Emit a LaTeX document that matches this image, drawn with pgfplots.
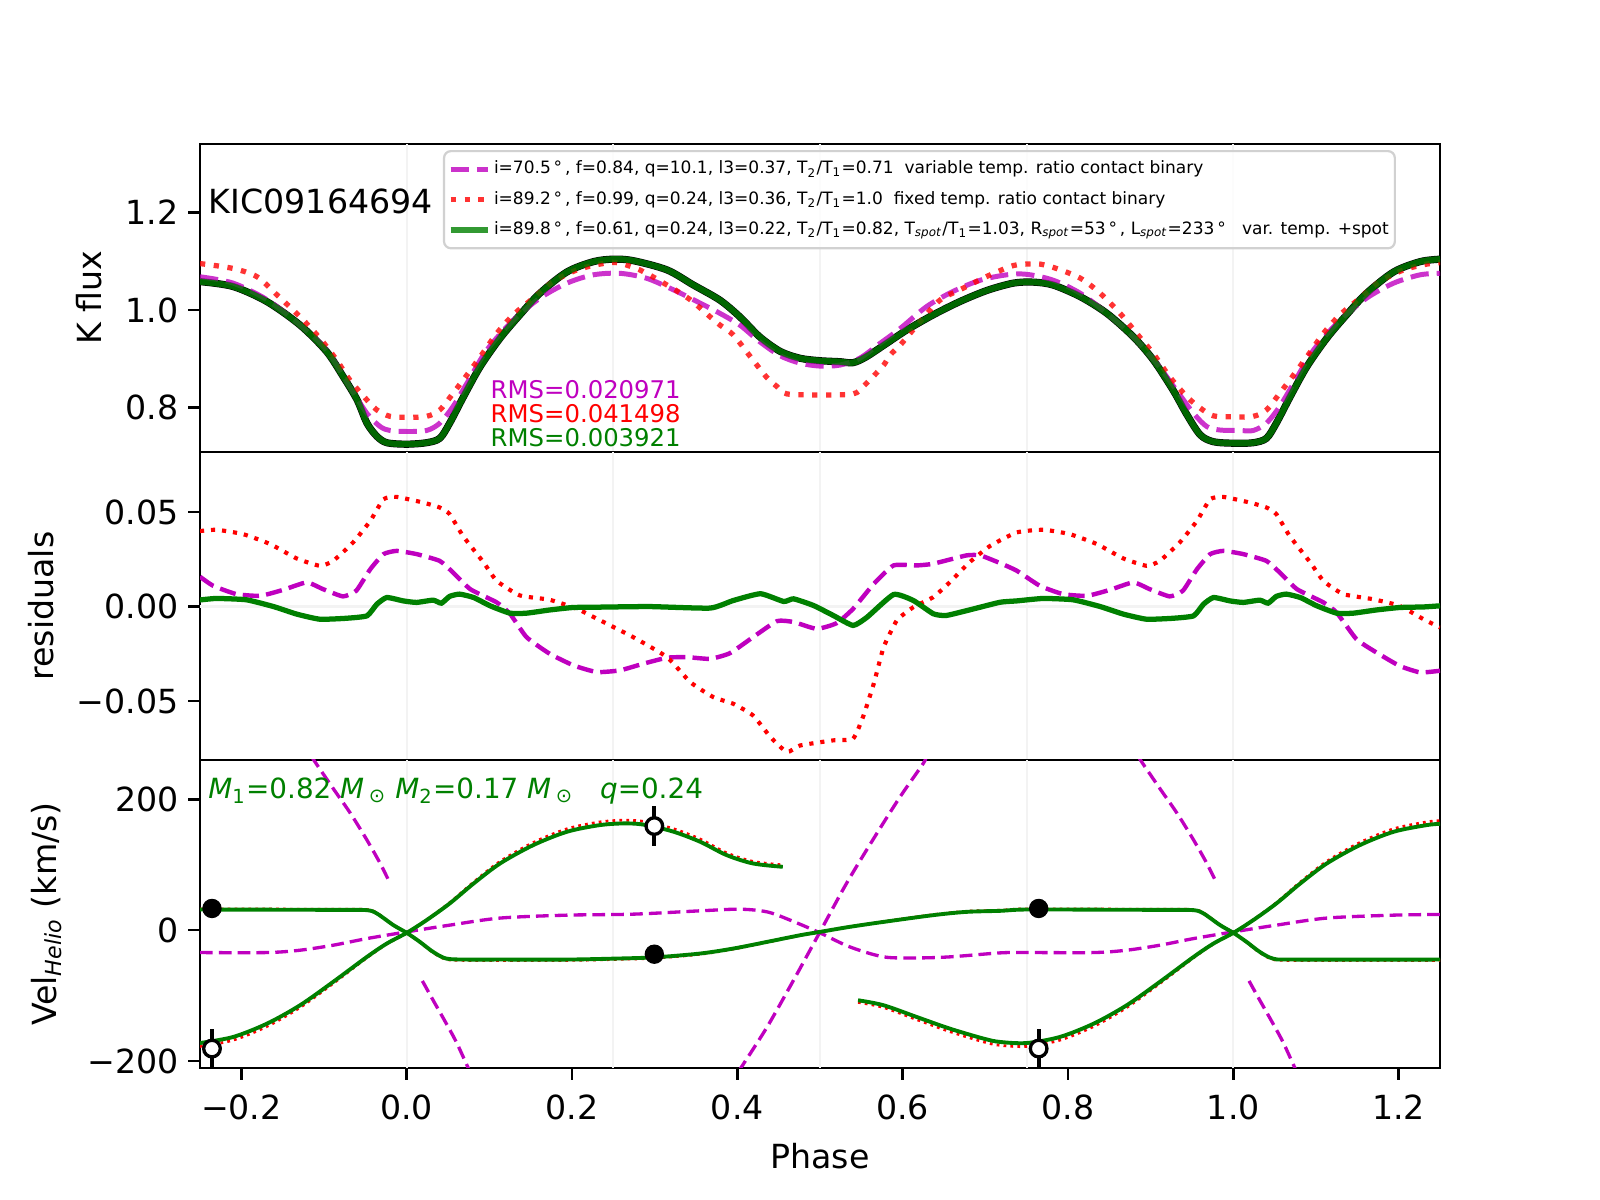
\documentclass[border=0pt]{standalone}
\usepackage{fontspec}
\setmainfont{DejaVu Sans}
\usepackage{pgfplots}
\pgfplotsset{compat=1.18}
\definecolor{mplm}{HTML}{BF00BF}
\definecolor{mplr}{HTML}{FF0000}
\definecolor{mplg}{HTML}{008000}
\definecolor{gridc}{HTML}{F3F3F3}
\pgfplotsset{
  panel/.style={
    scale only axis, width=6.2in, height=1.54in,
    xmin=-0.25, xmax=1.25,
    scaled ticks=false,
    axis line style={line width=1pt},
    tick align=outside,
    major tick length=4.2pt,
    every tick/.append style={black, line width=0.9pt},
    ytick pos=left, xtick pos=bottom,
    tick label style={font=\fontsize{12}{14}\selectfont},
    extra x ticks={0,0.25,0.5,0.75,1},
    extra x tick labels={},
    extra x tick style={grid=major, major tick length=0pt},
    major grid style={gridc, line width=0.8pt},
    ylabel style={font=\fontsize{12}{14}\selectfont, anchor=center},
    xlabel style={font=\fontsize{12}{14}\selectfont, anchor=center},
    unbounded coords=jump,
  },
}
\begin{document}
\begin{tikzpicture}
\useasboundingbox (0,0) rectangle (8in,6in);
% ---------------- TOP PANEL ----------------
\begin{axis}[panel, at={(1in,3.74in)}, anchor=south west,
  ymin=0.709, ymax=1.340, xtick=\empty,
  ytick={0.8,1.0,1.2}, yticklabels={0.8,1.0,1.2},
  ylabel={K flux}, ylabel style={at={(axis description cs:-0.0895,0.5)}},
  legend style={at={(axis description cs:0.9645,0.9805)}, anchor=north east,
    font=\fontsize{6.15}{7.4}\selectfont, draw=black!18, rounded corners=2.5pt,
    line width=0.8pt, fill=white, fill opacity=0.8, text opacity=1,
    inner xsep=1.3pt, inner ysep=2pt, row sep=1.5pt,
    nodes={inner xsep=0.9pt, inner ysep=1.6pt}, cells={anchor=west}},
  legend image code/.code={\draw[#1] (0cm,0cm) -- (0.48cm,0cm);},
]
\addplot[black, line width=2.6pt, smooth, forget plot] table {
-0.250 1.058
-0.210 1.048
-0.169 1.017
-0.129 0.969
-0.097 0.915
-0.077 0.864
-0.060 0.816
-0.048 0.768
-0.036 0.741
-0.024 0.728
0.000 0.725
0.024 0.728
0.040 0.737
0.052 0.768
0.069 0.823
0.089 0.884
0.113 0.942
0.137 0.990
0.161 1.034
0.194 1.078
0.226 1.099
0.250 1.104
0.274 1.101
0.315 1.082
0.347 1.051
0.379 1.020
0.403 0.986
0.427 0.945
0.452 0.915
0.476 0.901
0.500 0.896
0.524 0.894
0.540 0.892
0.556 0.904
0.581 0.932
0.605 0.959
0.637 0.990
0.669 1.017
0.702 1.040
0.734 1.055
0.758 1.057
0.782 1.051
0.815 1.027
0.847 0.993
0.879 0.945
0.903 0.898
0.927 0.836
0.944 0.785
0.960 0.744
0.976 0.730
1.000 0.727
1.024 0.728
1.040 0.737
1.052 0.768
1.069 0.823
1.089 0.884
1.113 0.942
1.137 0.990
1.161 1.034
1.194 1.078
1.226 1.099
1.250 1.104
};
\addplot[mplm, draw opacity=0.8, line width=1.8pt, dash pattern=on 6.6pt off 2.9pt, smooth, forget plot] table {
-0.250 1.068
-0.210 1.055
-0.169 1.021
-0.129 0.969
-0.097 0.918
-0.069 0.843
-0.048 0.788
-0.032 0.761
-0.020 0.753
0.000 0.751
0.024 0.753
0.040 0.768
0.056 0.802
0.073 0.850
0.097 0.918
0.129 0.979
0.161 1.024
0.194 1.055
0.226 1.072
0.258 1.075
0.290 1.065
0.323 1.041
0.355 1.014
0.379 0.993
0.403 0.969
0.427 0.935
0.452 0.906
0.476 0.891
0.500 0.885
0.524 0.887
0.548 0.901
0.573 0.932
0.597 0.962
0.629 1.007
0.661 1.038
0.694 1.061
0.726 1.072
0.750 1.073
0.782 1.061
0.815 1.034
0.847 0.993
0.879 0.945
0.907 0.891
0.931 0.836
0.952 0.788
0.968 0.761
0.984 0.754
1.008 0.753
1.024 0.753
1.040 0.768
1.056 0.802
1.073 0.850
1.097 0.918
1.129 0.979
1.161 1.024
1.194 1.055
1.226 1.072
1.250 1.075
};
\addplot[mplr, draw opacity=0.8, line width=1.9pt, dash pattern=on 1.9pt off 3.1pt, smooth, forget plot] table {
-0.250 1.095
-0.210 1.085
-0.181 1.068
-0.157 1.031
-0.129 0.986
-0.105 0.942
-0.085 0.898
-0.069 0.857
-0.052 0.823
-0.036 0.795
-0.020 0.782
0.000 0.780
0.024 0.782
0.040 0.795
0.056 0.829
0.073 0.867
0.089 0.904
0.109 0.952
0.129 0.990
0.153 1.024
0.177 1.058
0.206 1.082
0.234 1.094
0.254 1.097
0.282 1.082
0.315 1.051
0.343 1.021
0.367 0.986
0.379 0.969
0.395 0.949
0.415 0.906
0.435 0.863
0.448 0.843
0.460 0.828
0.500 0.826
0.540 0.828
0.552 0.843
0.565 0.865
0.577 0.887
0.585 0.908
0.597 0.928
0.609 0.952
0.621 0.976
0.645 1.020
0.669 1.041
0.689 1.058
0.710 1.075
0.734 1.091
0.750 1.094
0.766 1.094
0.786 1.085
0.815 1.065
0.839 1.034
0.863 0.993
0.883 0.952
0.903 0.911
0.923 0.863
0.944 0.822
0.960 0.799
0.976 0.783
1.000 0.781
1.024 0.782
1.040 0.795
1.056 0.829
1.073 0.867
1.089 0.904
1.109 0.952
1.129 0.990
1.153 1.024
1.177 1.058
1.206 1.082
1.234 1.094
1.250 1.097
};
\addplot[mplg, draw opacity=0.8, line width=2.2pt, smooth, forget plot] table {
-0.250 1.058
-0.210 1.048
-0.169 1.017
-0.129 0.969
-0.097 0.915
-0.077 0.864
-0.060 0.816
-0.048 0.768
-0.036 0.741
-0.024 0.728
0.000 0.725
0.024 0.728
0.040 0.737
0.052 0.768
0.069 0.823
0.089 0.884
0.113 0.942
0.137 0.990
0.161 1.034
0.194 1.078
0.226 1.099
0.250 1.104
0.274 1.101
0.315 1.082
0.347 1.051
0.379 1.020
0.403 0.986
0.427 0.945
0.452 0.915
0.476 0.901
0.500 0.896
0.524 0.894
0.540 0.892
0.556 0.904
0.581 0.932
0.605 0.959
0.637 0.990
0.669 1.017
0.702 1.040
0.734 1.055
0.758 1.057
0.782 1.051
0.815 1.027
0.847 0.993
0.879 0.945
0.903 0.898
0.927 0.836
0.944 0.785
0.960 0.744
0.976 0.730
1.000 0.727
1.024 0.728
1.040 0.737
1.052 0.768
1.069 0.823
1.089 0.884
1.113 0.942
1.137 0.990
1.161 1.034
1.194 1.078
1.226 1.099
1.250 1.104
};
\addlegendimage{mplm, draw opacity=0.8, line width=1.8pt, dash pattern=on 6.6pt off 2.9pt}
\addlegendentry{i=70.5\,°\,, f=0.84, q=10.1, l3=0.37, T\textsubscript{2}/T\textsubscript{1}=0.71\ \ variable temp. ratio contact binary}
\addlegendimage{mplr, draw opacity=0.8, line width=1.9pt, dash pattern=on 1.9pt off 3.1pt}
\addlegendentry{i=89.2\,°\,, f=0.99, q=0.24, l3=0.36, T\textsubscript{2}/T\textsubscript{1}=1.0\ \ fixed temp. ratio contact binary}
\addlegendimage{mplg, draw opacity=0.8, line width=2.2pt}
\addlegendentry{i=89.8\,°\,, f=0.61, q=0.24, l3=0.22, T\textsubscript{2}/T\textsubscript{1}=0.82, T\textsubscript{\textit{spot}}/T\textsubscript{1}=1.03, R\textsubscript{\textit{spot}}=53\,°\,, L\textsubscript{\textit{spot}}=233\,°\ \ \ var. temp. +spot}
\node[anchor=base west, inner sep=0pt, font=\fontsize{12}{14}\selectfont] at (axis description cs:0.0068,0.775) {KIC09164694};
\node[anchor=base west, inner sep=0pt, text=mplm, font=\fontsize{8.8}{10}\selectfont] at (axis cs:0.101,0.819) {RMS=0.020971};
\node[anchor=base west, inner sep=0pt, text=mplr, font=\fontsize{8.8}{10}\selectfont] at (axis cs:0.101,0.769) {RMS=0.041498};
\node[anchor=base west, inner sep=0pt, text=mplg, font=\fontsize{8.8}{10}\selectfont] at (axis cs:0.101,0.720) {RMS=0.003921};
\end{axis}
% ---------------- MIDDLE PANEL ----------------
\begin{axis}[panel, at={(1in,2.2in)}, anchor=south west,
  ymin=-0.0813, ymax=0.0819, xtick=\empty,
  ytick={-0.05,0,0.05}, yticklabels={−0.05,0.00,0.05},
  extra y ticks={0}, extra y tick labels={},
  extra y tick style={grid=major, major tick length=0pt},
  ylabel={residuals}, ylabel style={at={(axis description cs:-0.128,0.5)}},
]
\addplot[mplm, line width=1.6pt, dash pattern=on 5.9pt off 2.6pt, smooth, tension=0.3] table {
-0.250 0.0158
-0.234 0.0110
-0.206 0.0066
-0.177 0.0057
-0.149 0.0089
-0.121 0.0128
-0.101 0.0092
-0.077 0.0054
-0.061 0.0084
-0.044 0.0198
-0.028 0.0278
-0.012 0.0295
0.012 0.0278
0.040 0.0242
0.056 0.0181
0.077 0.0092
0.109 0.0022
0.125 -0.0038
0.145 -0.0162
0.173 -0.0250
0.202 -0.0312
0.230 -0.0347
0.258 -0.0338
0.286 -0.0303
0.315 -0.0271
0.339 -0.0268
0.367 -0.0277
0.391 -0.0247
0.419 -0.0162
0.448 -0.0077
0.468 -0.0082
0.496 -0.0118
0.520 -0.0088
0.540 -0.0012
0.565 0.0120
0.589 0.0218
0.617 0.0218
0.637 0.0227
0.677 0.0271
0.694 0.0271
0.718 0.0230
0.738 0.0190
0.766 0.0110
0.794 0.0066
0.823 0.0057
0.851 0.0089
0.879 0.0128
0.899 0.0092
0.923 0.0054
0.939 0.0084
0.956 0.0198
0.972 0.0278
0.988 0.0295
1.012 0.0278
1.040 0.0242
1.056 0.0181
1.077 0.0092
1.109 0.0022
1.125 -0.0032
1.149 -0.0173
1.173 -0.0243
1.201 -0.0314
1.226 -0.0349
1.250 -0.0340
};
\addplot[mplr, line width=1.5pt, dash pattern=on 1.5pt off 2.5pt, smooth, tension=0.3] table {
-0.250 0.0400
-0.230 0.0407
-0.198 0.0384
-0.165 0.0331
-0.133 0.0255
-0.105 0.0216
-0.089 0.0242
-0.065 0.0339
-0.044 0.0454
-0.028 0.0569
-0.012 0.0581
0.020 0.0551
0.040 0.0525
0.052 0.0490
0.068 0.0375
0.093 0.0234
0.109 0.0136
0.137 0.0059
0.173 0.0036
0.206 -0.0012
0.234 -0.0073
0.274 -0.0162
0.315 -0.0268
0.343 -0.0400
0.371 -0.0480
0.395 -0.0515
0.419 -0.0577
0.440 -0.0691
0.460 -0.0771
0.476 -0.0736
0.516 -0.0709
0.540 -0.0700
0.552 -0.0585
0.565 -0.0409
0.577 -0.0215
0.593 -0.0073
0.613 -0.0003
0.637 0.0050
0.657 0.0129
0.681 0.0235
0.706 0.0322
0.738 0.0393
0.770 0.0407
0.802 0.0384
0.835 0.0331
0.867 0.0255
0.895 0.0216
0.911 0.0242
0.935 0.0339
0.956 0.0454
0.972 0.0569
0.988 0.0581
1.020 0.0551
1.040 0.0525
1.052 0.0490
1.068 0.0375
1.093 0.0234
1.109 0.0136
1.133 0.0066
1.169 0.0039
1.201 0.0004
1.230 -0.0067
1.250 -0.0111
};
\addplot[mplg, line width=1.9pt, smooth, tension=0.3] table {
-0.250 0.0035
-0.230 0.0043
-0.194 0.0036
-0.161 0.0000
-0.133 -0.0040
-0.105 -0.0067
-0.073 -0.0062
-0.048 -0.0049
-0.036 0.0013
-0.024 0.0048
-0.004 0.0030
0.012 0.0022
0.032 0.0034
0.042 0.0018
0.052 0.0054
0.064 0.0066
0.081 0.0048
0.101 0.0004
0.125 -0.0035
0.145 -0.0035
0.173 -0.0018
0.201 -0.0005
0.234 -0.0003
0.294 0.0000
0.367 -0.0008
0.395 0.0032
0.428 0.0068
0.456 0.0027
0.468 0.0041
0.492 0.0006
0.516 -0.0047
0.540 -0.0100
0.557 -0.0056
0.589 0.0064
0.613 0.0032
0.637 -0.0038
0.653 -0.0047
0.686 -0.0012
0.718 0.0023
0.738 0.0030
0.770 0.0043
0.806 0.0036
0.839 0.0000
0.867 -0.0040
0.895 -0.0067
0.927 -0.0062
0.952 -0.0049
0.964 0.0013
0.976 0.0048
0.996 0.0030
1.012 0.0022
1.032 0.0034
1.042 0.0018
1.052 0.0054
1.064 0.0066
1.081 0.0048
1.101 0.0004
1.125 -0.0035
1.145 -0.0035
1.173 -0.0018
1.201 -0.0005
1.230 -0.0002
1.250 0.0004
};
\end{axis}
% ---------------- BOTTOM PANEL ----------------
\begin{axis}[panel, at={(1in,0.66in)}, anchor=south west,
  ymin=-210.7, ymax=260.2,
  xtick={-0.2,0,0.2,0.4,0.6,0.8,1.0,1.2},
  xticklabels={−0.2,0.0,0.2,0.4,0.6,0.8,1.0,1.2},
  xticklabel style={yshift=-2pt},
  ytick={-200,0,200}, yticklabels={−200,0,200},
  ylabel={Vel\textsubscript{\textit{Helio}} (km/s)}, ylabel style={at={(axis description cs:-0.1238,0.5)}},
  xlabel={Phase}, xlabel style={at={(axis description cs:0.5,-0.2857)}},
]
% magenta low-amplitude
\addplot[mplm, line width=1.2pt, dash pattern=on 4.6pt off 2.2pt, smooth] table {
-0.250 -34.2
-0.169 -34.2
-0.129 -30.6
-0.089 -23.0
-0.048 -12.8
0.000 -2.6
0.052 7.7
0.113 18.5
0.194 23.0
0.274 24.5
0.355 29.6
0.403 32.1
0.436 28.0
0.464 15.3
0.500 -4.1
0.536 -25.5
0.577 -40.8
0.617 -42.4
0.657 -40.8
0.718 -34.7
0.750 -34.2
0.831 -34.2
0.871 -30.6
0.911 -23.0
0.952 -12.8
1.000 -2.6
1.052 7.7
1.113 18.5
1.194 23.0
1.250 24.0
};
% magenta high-amplitude segments
\addplot[mplm, line width=1.2pt, dash pattern=on 4.6pt off 2.2pt, smooth] table {
-0.115 266.0
-0.111 257.6
-0.089 216.8
-0.068 178.6
-0.048 137.7
-0.032 102.0
-0.020 71.4
};
\addplot[mplm, line width=1.2pt, dash pattern=on 4.6pt off 2.2pt, smooth] table {
0.019 -77.6
0.032 -107.1
0.048 -142.9
0.060 -170.9
0.073 -206.6
0.076 -215.0
};
\addplot[mplm, line width=1.2pt, dash pattern=on 4.6pt off 2.2pt, smooth] table {
0.402 -215.0
0.405 -209.2
0.436 -148.0
0.468 -76.5
0.500 -2.6
0.532 71.4
0.565 140.3
0.597 204.1
0.625 255.1
0.628 265.0
};
\addplot[mplm, line width=1.2pt, dash pattern=on 4.6pt off 2.2pt, smooth] table {
0.885 266.0
0.889 257.6
0.911 216.8
0.932 178.6
0.952 137.7
0.968 102.0
0.980 71.4
};
\addplot[mplm, line width=1.2pt, dash pattern=on 4.6pt off 2.2pt, smooth] table {
1.019 -77.6
1.032 -107.1
1.048 -142.9
1.060 -170.9
1.073 -206.6
1.076 -215.0
};
% red dotted model
\addplot[mplr, line width=1.0pt, dash pattern=on 1.0pt off 1.5pt, smooth] table {
-0.250 32.5
-0.150 32.2
-0.080 31.9
-0.048 31.5
-0.036 26.3
-0.016 7.9
0.000 -4.1
0.016 -18.4
0.032 -34.2
0.048 -44.7
0.073 -46.2
0.113 -46.2
0.194 -46.2
0.250 -44.8
0.300 -42.7
0.355 -36.8
0.395 -28.9
0.436 -18.4
0.476 -7.9
0.500 -2.7
0.536 5.3
0.577 13.1
0.637 23.7
0.677 28.8
0.718 30.5
0.750 32.5
0.850 32.2
0.920 31.9
0.952 31.5
0.964 26.3
0.984 7.9
1.000 -4.1
1.016 -18.4
1.032 -34.2
1.048 -44.7
1.073 -46.2
1.250 -46.2
};
\addplot[mplr, line width=1.0pt, dash pattern=on 1.0pt off 1.5pt, smooth] table {
-0.250 -177.7
-0.210 -168.2
-0.169 -147.2
-0.129 -118.2
-0.089 -81.5
-0.048 -42.0
-0.024 -21.0
0.000 -4.2
0.024 15.8
0.052 42.0
0.081 73.5
0.113 105.1
0.153 133.9
0.194 155.0
0.234 165.5
0.266 168.2
0.290 165.5
0.323 155.0
0.355 139.3
0.387 118.2
0.419 105.1
0.455 99.8
};
\addplot[mplr, line width=1.0pt, dash pattern=on 1.0pt off 1.5pt, smooth] table {
0.546 -110.3
0.577 -118.2
0.617 -136.7
0.657 -155.0
0.698 -170.8
0.718 -176.0
0.750 -177.7
0.790 -168.2
0.831 -147.2
0.871 -118.2
0.911 -81.5
0.952 -42.0
0.976 -21.0
1.000 -4.2
1.024 15.8
1.052 42.0
1.081 73.5
1.113 105.1
1.153 133.9
1.194 155.0
1.234 165.5
1.250 167.4
};
% green solid model
\addplot[mplg, line width=1.4pt, smooth] table {
-0.250 31.6
-0.150 31.3
-0.080 31.0
-0.048 30.6
-0.036 25.5
-0.016 7.7
0.000 -4.0
0.016 -17.9
0.032 -33.2
0.048 -43.4
0.073 -44.9
0.113 -44.9
0.194 -44.9
0.250 -43.5
0.300 -41.5
0.355 -35.7
0.395 -28.1
0.436 -17.9
0.476 -7.7
0.500 -2.6
0.536 5.1
0.577 12.7
0.637 23.0
0.677 28.0
0.718 29.6
0.750 31.6
0.850 31.3
0.920 31.0
0.952 30.6
0.964 25.5
0.984 7.7
1.000 -4.0
1.016 -17.9
1.032 -33.2
1.048 -43.4
1.073 -44.9
1.250 -44.9
};
\addplot[mplg, line width=1.4pt, smooth] table {
-0.250 -172.5
-0.210 -163.3
-0.169 -142.9
-0.129 -114.8
-0.089 -79.1
-0.048 -40.8
-0.024 -20.4
0.000 -4.1
0.024 15.3
0.052 40.8
0.081 71.4
0.113 102.0
0.153 130.0
0.194 150.5
0.234 160.7
0.266 163.3
0.290 160.7
0.323 150.5
0.355 135.2
0.387 114.8
0.419 102.0
0.455 96.9
};
\addplot[mplg, line width=1.4pt, smooth] table {
0.546 -107.1
0.577 -114.8
0.617 -132.7
0.657 -150.5
0.698 -165.8
0.718 -170.9
0.750 -172.5
0.790 -163.3
0.831 -142.9
0.871 -114.8
0.911 -79.1
0.952 -40.8
0.976 -20.4
1.000 -4.1
1.024 15.3
1.052 40.8
1.081 71.4
1.113 102.0
1.153 130.0
1.194 150.5
1.234 160.7
1.250 162.5
};
% observed RVs
\addplot[black, only marks, mark=none, error bars/.cd, y dir=both, y explicit, error mark=none, error bar style={line width=1.4pt}] coordinates {
(-0.2355,-181) +- (0,30)
(0.2996,159.2) +- (0,30)
(0.7645,-181) +- (0,30)
};
\addplot[black, only marks, mark=*, mark size=3.0pt, mark options={fill=white, line width=1.2pt}] coordinates {
(-0.2355,-181) (0.2996,159.2) (0.7645,-181)
};
\addplot[black, only marks, mark=*, mark size=3.3pt] coordinates {
(-0.2355,33.2) (0.2996,-36.7) (0.7645,33.2)
};
\node[anchor=base west, inner sep=0pt, text=mplg, font=\fontsize{10.05}{12}\selectfont] at (axis cs:-0.2405,201.5) {\textit{M}\textsubscript{1}=0.82 \textit{M}\,\textsubscript{⊙} \textit{M}\textsubscript{2}=0.17 \textit{M}\,\textsubscript{⊙}\ \ \ \textit{q}=0.24};
\end{axis}
\end{tikzpicture}
\end{document}
